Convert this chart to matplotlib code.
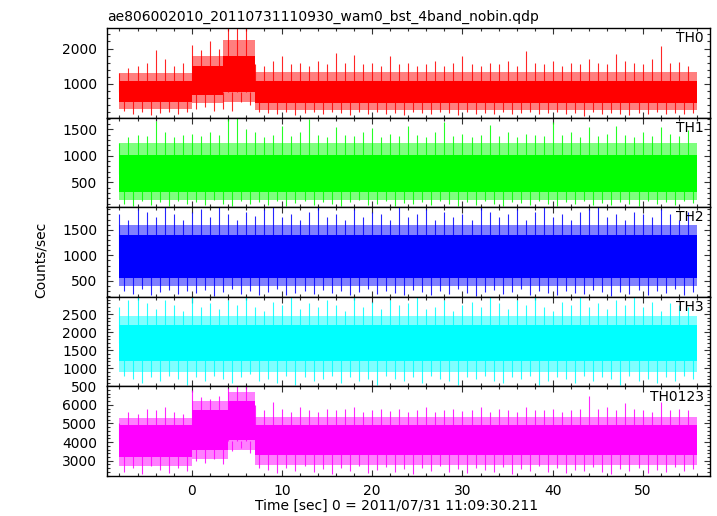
import numpy as np
import matplotlib
matplotlib.use('Agg')
import matplotlib.pyplot as plt
from matplotlib.ticker import MultipleLocator

# Per-second time bins of the light curve (sec from trigger)
t_sec = np.arange(-8, 56)

names = ['TH0', 'TH1', 'TH2', 'TH3', 'TH0123']
colors = ['#ff0000', '#00ff00', '#0000ff', '#00ffff', '#ff00ff']

# Mean level of each band (counts/sec)
level = [780, 650, 950, 1700, 4050]

# Step bands: edges, solid core and lighter fringe (counts/sec)
band_edges = [[-8, 0, 3.5, 7, 56], [-8, 56], [-8, 56], [-8, 56], [-8, 0, 4, 7, 56]]
core_lo = [[480, 680, 780, 470], [320], [550], [1200], [3200, 3600, 4100, 3300]]
core_hi = [[1080, 1500, 1800, 1080], [1020], [1400], [2200], [4900, 5700, 6200, 4900]]
fringe_lo = [[280, 450, 500, 270], [170], [400], [900], [2700, 3100, 3600, 2750]]
fringe_hi = [[1320, 1800, 2250, 1330], [1250], [1600], [2450], [5300, 6200, 6700, 5350]]

# Per-second peaks and troughs
th0_hi = [1300, 1450, 1500, 1600, 1970, 1700, 1500, 1600,
          2100, 1950, 2200, 2000, 2600, 2600, 2600, 1550,
          1500, 1650, 1780, 1550, 1600, 1500, 1650, 1550,
          1870, 1600, 1820, 1550, 1600, 1500, 1800, 1550,
          1600, 1500, 1550, 1650, 1500, 1600, 1780, 1550,
          1500, 1600, 1550, 1650, 1500, 1920, 1600, 1550,
          1650, 1500, 1600, 1550, 1700, 1600, 1550, 1850,
          1650, 1600, 1550, 1700, 2070, 1600, 1630, 1500]
th0_lo = [250, 150, 200, 120, 180, 200, 150, 220,
          300, 350, 250, 280, 240, 500, 400, 200,
          180, 150, 200, 120, 180, 220, 150, 200,
          170, 130, 200, 160, 210, 150, 180, 130,
          200, 170, 150, 210, 180, 120, 200, 160,
          190, 140, 200, 150, 180, 210, 140, 170,
          200, 150, 180, 100, 200, 160, 190, 140,
          120, 180, 150, 200, 160, 190, 140, 180]
th1_hi = [1250, 1350, 1400, 1380, 1660, 1450, 1350, 1400,
          1420, 1380, 1450, 1400, 1700, 1720, 1500, 1450,
          1350, 1400, 1570, 1380, 1450, 1700, 1400, 1350,
          1550, 1400, 1380, 1450, 1530, 1350, 1420, 1380,
          1560, 1400, 1350, 1450, 1630, 1380, 1420, 1350,
          1400, 1580, 1380, 1450, 1350, 1420, 1400, 1380,
          1640, 1400, 1450, 1350, 1550, 1380, 1420, 1560,
          1400, 1350, 1450, 1380, 1540, 1420, 1380, 1480]
th1_lo = [100, 60, 150, 80, 120, 50, 140, 90,
          130, 70, 160, 100, 60, 140, 90, 120,
          80, 150, 60, 110, 140, 70, 130, 90,
          50, 120, 160, 80, 100, 140, 60, 110,
          90, 130, 70, 150, 100, 60, 120, 80,
          140, 90, 50, 130, 110, 70, 150, 100,
          60, 120, 90, 140, 80, 110, 70, 130,
          100, 60, 150, 90, 120, 80, 140, 110]
th2_hi = [1800, 1700, 1900, 1850, 1750, 1940, 1800, 1700,
          1850, 1900, 1750, 1940, 1800, 1700, 1850, 1760,
          1900, 1940, 1750, 1800, 1700, 1850, 1940, 1750,
          1800, 1700, 1900, 1750, 1850, 1800, 1700, 1940,
          1750, 1800, 1900, 1700, 1850, 1750, 1800, 1700,
          1940, 1850, 1750, 1800, 1900, 1700, 1850, 1940,
          1750, 1800, 1700, 1850, 1900, 1940, 1750, 1800,
          1700, 1850, 1800, 1750, 1900, 1800, 1700, 1850]
th2_lo = [300, 250, 350, 220, 280, 330, 240, 300,
          260, 320, 210, 280, 340, 250, 300, 230,
          290, 350, 220, 270, 310, 240, 330, 260,
          300, 220, 280, 350, 240, 310, 260, 230,
          330, 280, 220, 300, 250, 340, 270, 210,
          290, 320, 240, 280, 350, 230, 300, 260,
          220, 310, 270, 240, 330, 290, 210, 280,
          250, 320, 230, 300, 270, 340, 220, 290]
th3_hi = [2700, 2900, 2980, 2800, 2650, 2900, 2750, 2600,
          2980, 2700, 2800, 2650, 2900, 2750, 2980, 2700,
          2600, 2850, 2750, 2980, 2650, 2800, 2700, 2900,
          2750, 2600, 2980, 2700, 2850, 2650, 2900, 2750,
          2800, 2980, 2650, 2700, 2900, 2600, 2750, 2850,
          2700, 2980, 2800, 2650, 2900, 2750, 2980, 2700,
          2600, 2850, 2750, 2980, 2700, 2800, 2650, 2900,
          2750, 2980, 2700, 2850, 2600, 2800, 2750, 2700]
th3_lo = [800, 700, 600, 750, 650, 800, 700, 550,
          750, 650, 800, 700, 600, 750, 850, 650,
          700, 600, 800, 550, 750, 650, 700, 800,
          600, 750, 650, 700, 550, 800, 700, 650,
          750, 600, 800, 700, 650, 550, 750, 700,
          800, 650, 600, 750, 700, 800, 550, 650,
          750, 700, 600, 800, 650, 750, 700, 550,
          800, 650, 700, 600, 750, 650, 800, 700]
th0123_hi = [5000, 5600, 5500, 5800, 5700, 5900, 5600, 5500,
             6800, 6400, 6300, 6500, 6900, 7000, 7000, 6000,
             5700, 6150, 5800, 5600, 5900, 5700, 5600, 5800,
             5700, 5800, 5900, 5600, 5700, 5800, 5650, 5800,
             5600, 5700, 5900, 5600, 5750, 5800, 5650, 5700,
             5900, 5600, 5800, 5700, 5600, 5900, 5750, 5700,
             5800, 5600, 5700, 5800, 6450, 5800, 5900, 5700,
             6100, 5800, 5700, 5600, 6180, 5750, 5800, 5700]
th0123_lo = [2400, 2600, 2300, 2700, 2500, 2350, 2600, 2450,
             3000, 2900, 3100, 2800, 3500, 3700, 3400, 2600,
             2500, 2350, 2600, 2450, 2700, 2400, 2550, 2300,
             2600, 2450, 2700, 2350, 2500, 2650, 2400, 2550,
             2300, 2600, 2450, 2700, 2400, 2550, 2350, 2600,
             2500, 2400, 2650, 2300, 2550, 2450, 2700, 2400,
             2600, 2350, 2500, 2450, 2650, 2400, 2300, 2550,
             2450, 2600, 2350, 2500, 2400, 2650, 2450, 2550]

peaks = [th0_hi, th1_hi, th2_hi, th3_hi, th0123_hi]
troughs = [th0_lo, th1_lo, th2_lo, th3_lo, th0123_lo]

ylims = [(50, 2580), (30, 1720), (190, 1940), (500, 2980), (2180, 6990)]
ymajor = [1000, 500, 500, 500, 1000]
yminor = [200, 100, 100, 100, 200]

plt.rcParams['font.family'] = 'DejaVu Sans'
plt.rcParams['font.size'] = 10

fig, axes = plt.subplots(5, 1, sharex=True, figsize=(7.17, 5.16), dpi=100,
                         gridspec_kw=dict(hspace=0))
fig.subplots_adjust(left=0.149, right=0.990, top=0.9457, bottom=0.0775)

for i, ax in enumerate(axes):
    c = colors[i]
    edges = band_edges[i]
    # step fill needs the last value repeated at the final edge
    ax.fill_between(edges, fringe_lo[i] + fringe_lo[i][-1:], fringe_hi[i] + fringe_hi[i][-1:],
                    step='post', color=c, alpha=0.5, lw=0)
    ax.fill_between(edges, core_lo[i] + core_lo[i][-1:], core_hi[i] + core_hi[i][-1:],
                    step='post', color=c, lw=0)
    ax.vlines(t_sec, level[i], peaks[i], color=c, lw=0.8, alpha=0.85)
    ax.vlines(t_sec + 0.5, troughs[i], level[i], color=c, lw=0.8, alpha=0.85)

    ax.set_ylim(*ylims[i])
    ax.yaxis.set_major_locator(MultipleLocator(ymajor[i]))
    ax.yaxis.set_minor_locator(MultipleLocator(yminor[i]))
    ax.xaxis.set_major_locator(MultipleLocator(10))
    ax.xaxis.set_minor_locator(MultipleLocator(2))
    ax.tick_params(which='both', direction='in', top=True, right=True,
                   width=0.8, color='#333333')
    ax.tick_params(which='major', length=4.5)
    ax.tick_params(which='minor', length=2.5)
    ax.tick_params(axis='y', pad=7)
    ax.tick_params(axis='x', pad=6)
    for s in ax.spines.values():
        s.set_linewidth(1.0)
    ax.text(0.99, 0.965, names[i], transform=ax.transAxes, ha='right', va='top')

axes[-1].set_xlim(-9.4, 57.4)

fig.text(0.149, 1 - 20.5 / 516, 'ae806002010_20110731110930_wam0_bst_4band_nobin.qdp',
         ha='left', va='baseline')
fig.text(41 / 717, 1 - 260 / 516, 'Counts/sec', rotation=90, ha='center', va='center')
fig.text(397 / 717, 1 - 506 / 516, 'Time [sec] 0 = 2011/07/31 11:09:30.211',
         ha='center', va='center')

fig.savefig('out.png', dpi=100)
